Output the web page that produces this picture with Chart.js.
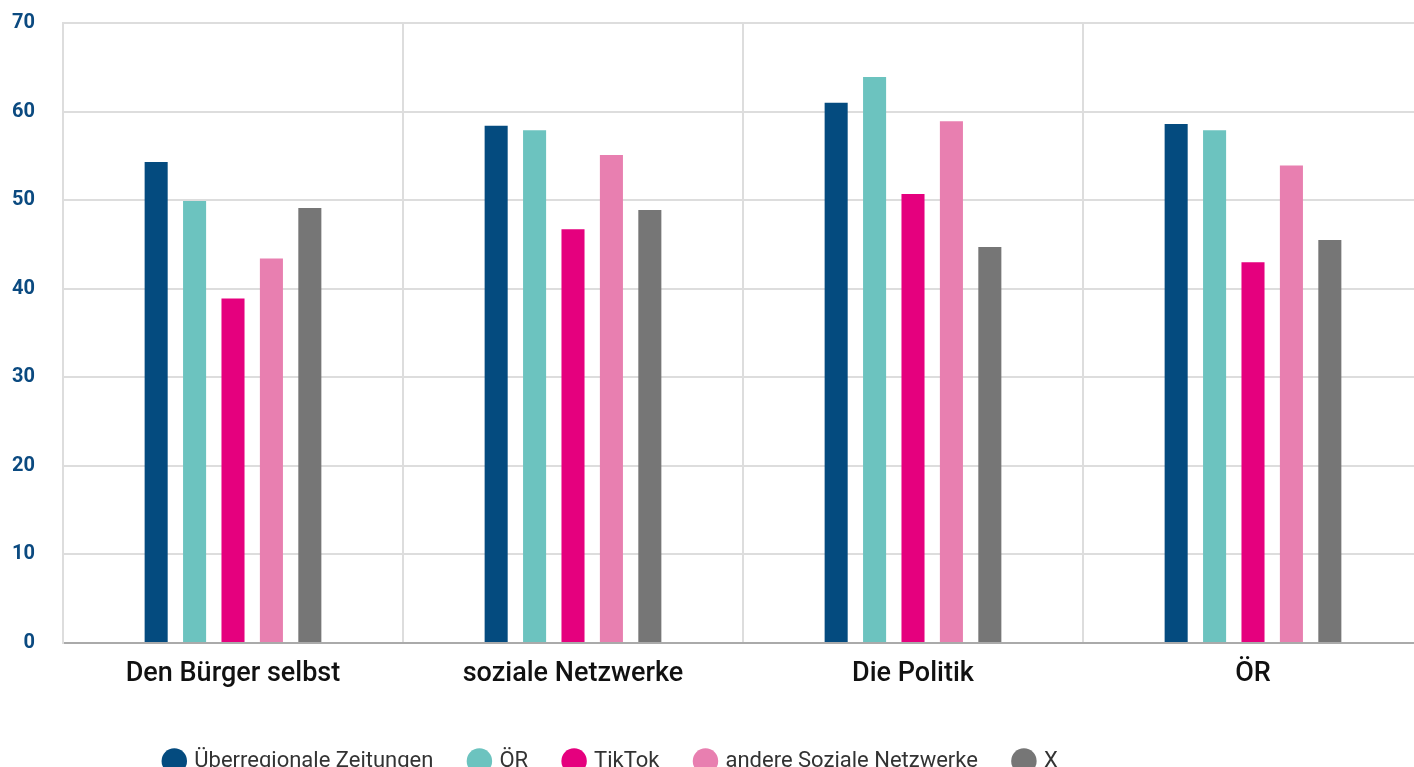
<!DOCTYPE html>
<html>
<head>
<meta charset="utf-8">
<script src="https://cdn.jsdelivr.net/npm/chart.js@4.4.1/dist/chart.umd.min.js"></script>
<style>
  html, body { margin: 0; padding: 0; background: #ffffff; overflow: hidden; }
  #wrap { width: 1423px; height: 782px; }
</style>
</head>
<body>
<div id="wrap"><canvas id="c" width="1423" height="782"></canvas></div>
<script>
const categories = ["Den Bürger selbst", "soziale Netzwerke", "Die Politik", "ÖR"];
const seriesNames = ["Überregionale Zeitungen", "ÖR", "TikTok", "andere Soziale Netzwerke", "X"];
const ueberregionale = [54.3, 58.4, 61.0, 58.6];
const oer = [49.9, 57.9, 63.9, 57.9];
const tiktok = [38.9, 46.7, 50.7, 43.0];
const andereSoziale = [43.4, 55.1, 58.9, 53.9];
const x = [49.1, 48.9, 44.7, 45.5];
const yTicks = [0, 10, 20, 30, 40, 50, 60, 70];
const colors = ["#044b7f", "#6cc3bf", "#e5007e", "#e87fb0", "#767676"];

const seriesValues = [ueberregionale, oer, tiktok, andereSoziale, x];

const legendShift = {
  id: 'legendShift',
  beforeDraw(chart) {
    const lg = chart.legend;
    if (lg && !lg._shifted) {
      lg.left -= 100; lg.right -= 100;
      lg._shifted = true;
    }
  }
};

new Chart(document.getElementById('c'), {
  type: 'bar',
  data: {
    labels: categories,
    datasets: seriesNames.map((n, i) => ({
      label: n,
      data: seriesValues[i],
      backgroundColor: colors[i],
      borderWidth: 0,
      categoryPercentage: 0.565,
      barPercentage: 0.6
    }))
  },
  options: {
    responsive: false,
    animation: false,
    layout: { padding: { top: 23, right: 0, left: 0, bottom: 0 } },
    plugins: {
      legend: {
        position: 'bottom',
        labels: {
          usePointStyle: true,
          pointStyle: 'circle',
          boxWidth: 18,
          boxHeight: 18,
          padding: 37,
          color: '#333333',
          font: { family: 'Roboto', size: 22, weight: '400' }
        }
      },
      tooltip: { enabled: false }
    },
    scales: {
      x: {
        grid: { display: true, offset: true, color: '#dddddd', lineWidth: 2, drawTicks: false },
        border: { color: '#aaaaaa', width: 2 },
        ticks: {
          color: '#111111',
          padding: 15,
          font: { family: 'Roboto', size: 27, weight: '500' }
        },
        afterFit(scale) { scale.height = 70; }
      },
      y: {
        min: 0, max: 70,
        afterBuildTicks(scale) { scale.ticks = yTicks.map(v => ({ value: v })); },
        grid: { color: '#dddddd', lineWidth: 2, drawTicks: false },
        border: { color: '#dddddd', width: 2 },
        ticks: {
          color: '#0b4a80',
          padding: 28,
          font: { family: 'Roboto', size: 20, weight: 'bold' }
        },
        afterFit(scale) {
          scale.width = 63;
          scale.paddingTop = 0;
          scale.paddingBottom = 0;
        }
      }
    }
  },
  plugins: [legendShift]
});
</script>
</body>
</html>
